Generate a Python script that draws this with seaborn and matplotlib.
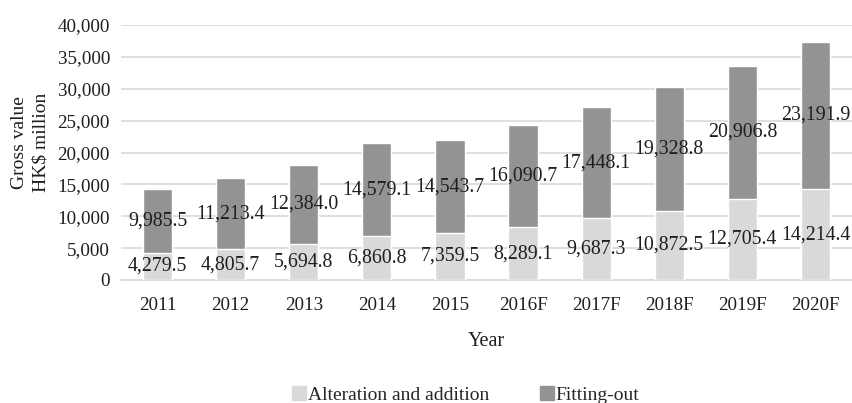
import matplotlib
matplotlib.use("Agg")
import matplotlib.pyplot as plt
import seaborn as sns
import pandas as pd
from matplotlib.lines import Line2D
from matplotlib.ticker import FuncFormatter

years = ["2011", "2012", "2013", "2014", "2015", "2016F", "2017F", "2018F", "2019F", "2020F"]
alteration = [4279.5, 4805.7, 5694.8, 6860.8, 7359.5, 8289.1, 9687.3, 10872.5, 12705.4, 14214.4]
fitting_out = [9985.5, 11213.4, 12384.0, 14579.1, 14543.7, 16090.7, 17448.1, 19328.8, 20906.8, 23191.9]

LIGHT = "#d9d9d9"
DARK = "#939393"
GRID = "#d9d9d9"
INK = "#1e1e1e"

sns.set_theme(style="white")
plt.rcParams["font.family"] = ["Liberation Serif", "DejaVu Serif"]

df = pd.DataFrame({"Year": years, "alt": alteration, "fit": fitting_out})
df["total"] = df["alt"] + df["fit"]

fig = plt.figure(figsize=(8.53, 4.03), dpi=100)
ax = fig.add_axes([121 / 853, 1 - 280 / 403, (852 - 121) / 853, (280 - 25) / 403])

sns.barplot(data=df, x="Year", y="total", color=DARK, width=0.4, saturation=1, ax=ax, zorder=3)
sns.barplot(data=df, x="Year", y="alt", color=LIGHT, width=0.4, saturation=1, ax=ax, zorder=4)

for i, (a, f) in enumerate(zip(alteration, fitting_out)):
    ax.text(i, a / 2, f"{a:,.1f}", ha="center", va="center", fontsize=14.3, color=INK, zorder=5)
    ax.text(i, a + f / 2, f"{f:,.1f}", ha="center", va="center", fontsize=14.3, color=INK, zorder=5)

ax.set_ylim(0, 40000)
ax.set_xlim(-0.5, len(years) - 0.5)
ax.set_yticks(range(0, 40001, 5000))
ax.yaxis.set_major_formatter(FuncFormatter(lambda v, p: f"{int(v):,}"))
ax.yaxis.grid(True, color=GRID, linewidth=1.2, zorder=0)
ax.xaxis.grid(False)
for s in ["top", "right", "left"]:
    ax.spines[s].set_visible(False)
ax.spines["bottom"].set_color(GRID)
ax.spines["bottom"].set_linewidth(1.2)
ax.tick_params(axis="y", length=0, labelsize=13.7, colors=INK, pad=8)
ax.tick_params(axis="x", length=0, labelsize=13.7, colors=INK, pad=12)
ax.set_xlabel("Year", fontsize=14.5, color=INK, labelpad=13)
ax.set_ylabel("Gross value\nHK$ million", fontsize=14, color=INK, linespacing=1.3)
ax.yaxis.set_label_coords(-0.098, 0.54)

handles = [
    Line2D([], [], marker="s", linestyle="", markersize=10, markerfacecolor=LIGHT, markeredgecolor=LIGHT),
    Line2D([], [], marker="s", linestyle="", markersize=10, markerfacecolor=DARK, markeredgecolor=DARK),
]
fig.legend(handles, ["Alteration and addition", "Fitting-out"], loc="center",
           bbox_to_anchor=(466 / 853, 1 - 395 / 403), ncol=2, frameon=False,
           fontsize=14, handletextpad=0.1, columnspacing=2.6, handlelength=0.7)

fig.savefig("out.png", dpi=100)
